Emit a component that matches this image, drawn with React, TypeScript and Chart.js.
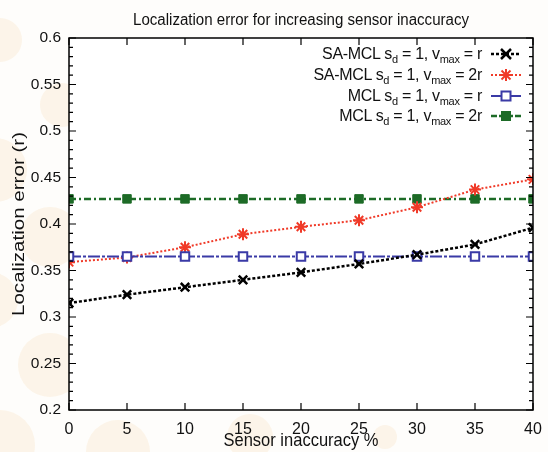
import React, { useEffect, useRef } from "react";
import { Chart, registerables } from "chart.js";
Chart.register(...registerables);

const titleText = "Localization error for increasing sensor inaccuracy";
const xAxisTitle = "Sensor inaccuracy %";
const yAxisTitle = "Localization error (r)";

const xValues = [0, 5, 10, 15, 20, 25, 30, 35, 40];
const saMclVr = [0.315, 0.324, 0.332, 0.340, 0.348, 0.357, 0.367, 0.378, 0.396];
const saMclV2r = [0.359, 0.364, 0.375, 0.389, 0.397, 0.404, 0.418, 0.437, 0.448];
const mclVr = [0.365, 0.365, 0.365, 0.365, 0.365, 0.365, 0.365, 0.365, 0.365];
const mclV2r = [0.427, 0.427, 0.427, 0.427, 0.427, 0.427, 0.427, 0.427, 0.427];

const xTickValues = [0, 5, 10, 15, 20, 25, 30, 35, 40];
const yTickValues = [0.2, 0.25, 0.3, 0.35, 0.4, 0.45, 0.5, 0.55, 0.6];
const yTickLabels = ["0.2", "0.25", "0.3", "0.35", "0.4", "0.45", "0.5", "0.55", "0.6"];

const seriesLabels = [
  { pre: "SA-MCL", v: "r" },
  { pre: "SA-MCL", v: "2r" },
  { pre: "MCL", v: "r" },
  { pre: "MCL", v: "2r" },
];

const FONT = "'Liberation Sans', Arial, sans-serif";
const BLACK = "#000000";
const RED = "#f03a28";
const BLUE = "#3a3aa6";
const GREEN = "#1d6b27";

function Sample({ idx }: { idx: number }) {
  const cx = 16, cy = 7;
  let line: any = null;
  let marker: any = null;
  if (idx === 0) {
    line = <line x1={1} y1={cy} x2={31} y2={cy} stroke={BLACK} strokeWidth={2.5} strokeDasharray="3 2" />;
    marker = (
      <g stroke={BLACK} strokeWidth={2.5}>
        <line x1={cx - 5} y1={cy - 5} x2={cx + 5} y2={cy + 5} />
        <line x1={cx - 5} y1={cy + 5} x2={cx + 5} y2={cy - 5} />
      </g>
    );
  } else if (idx === 1) {
    line = <line x1={1} y1={cy} x2={31} y2={cy} stroke={RED} strokeWidth={2} strokeDasharray="2 2" />;
    marker = (
      <g stroke={RED} strokeWidth={2}>
        <line x1={cx - 4.5} y1={cy - 4.5} x2={cx + 4.5} y2={cy + 4.5} />
        <line x1={cx - 4.5} y1={cy + 4.5} x2={cx + 4.5} y2={cy - 4.5} />
        <line x1={cx - 6} y1={cy} x2={cx + 6} y2={cy} />
        <line x1={cx} y1={cy - 6} x2={cx} y2={cy + 6} />
      </g>
    );
  } else if (idx === 2) {
    line = <line x1={1} y1={cy} x2={31} y2={cy} stroke={BLUE} strokeWidth={2} />;
    marker = <rect x={cx - 4.5} y={cy - 4.5} width={9} height={9} fill="#fff" stroke={BLUE} strokeWidth={2} />;
  } else {
    line = <line x1={1} y1={cy} x2={31} y2={cy} stroke={GREEN} strokeWidth={2.5} strokeDasharray="6 2 2 2" />;
    marker = <rect x={cx - 4.5} y={cy - 4.5} width={9} height={9} fill={GREEN} stroke={GREEN} strokeWidth={1} />;
  }
  return (
    <svg width={32} height={14} style={{ marginLeft: 8, display: "block" }}>
      {line}
      {marker}
    </svg>
  );
}

function Legend() {
  return (
    <div
      style={{
        position: "absolute",
        right: 26,
        top: 44,
        fontFamily: FONT,
        fontSize: 16,
        letterSpacing: -0.3,
        color: "#111",
        textAlign: "right",
      }}
    >
      {seriesLabels.map((s, i) => (
        <div key={i} style={{ display: "flex", alignItems: "center", justifyContent: "flex-end", height: 20.7 }}>
          <span style={{ whiteSpace: "nowrap", lineHeight: "16px" }}>
            {s.pre} s<sub style={{ fontSize: 11, lineHeight: 0 }}>d</sub> = 1, v
            <sub style={{ fontSize: 11, lineHeight: 0 }}>max</sub> = {s.v}
          </span>
          <Sample idx={i} />
        </div>
      ))}
    </div>
  );
}

function fitText(ctx: CanvasRenderingContext2D, text: string, x: number, y: number, size: number, width: number) {
  ctx.save();
  ctx.font = `${size}px ${FONT}`;
  const w = ctx.measureText(text).width;
  ctx.translate(x, y);
  ctx.scale(width / w, 1);
  ctx.textAlign = "center";
  ctx.textBaseline = "middle";
  ctx.fillText(text, 0, 0);
  ctx.restore();
}

export default function App() {
  const ref = useRef<HTMLCanvasElement>(null);
  useEffect(() => {
    document.body.style.margin = "0";
    const canvas = ref.current;
    if (!canvas) return;
    const toPts = (ys: number[]) => xValues.map((x, i) => ({ x, y: ys[i] }));

    const decor = {
      id: "decor",
      beforeDraw(chart: any) {
        const ctx = chart.ctx;
        ctx.save();
        ctx.fillStyle = "#fefdfb";
        ctx.fillRect(0, 0, chart.width, chart.height);
        ctx.fillStyle = "rgba(248, 215, 170, 0.22)";
        const circles = [
          [0, 40, 22], [62, 105, 22], [-5, 170, 32], [50, 237, 30], [-10, 300, 28],
          [50, 365, 32], [0, 445, 35], [118, 452, 32], [250, 437, 23], [385, 437, 12],
        ];
        for (const [x, y, r] of circles) {
          ctx.beginPath();
          ctx.arc(x, y, r, 0, Math.PI * 2);
          ctx.fill();
        }
        const a = chart.chartArea;
        ctx.fillStyle = "#ffffff";
        ctx.fillRect(a.left, a.top, a.right - a.left, a.bottom - a.top);
        ctx.restore();
      },
      afterDraw(chart: any) {
        const ctx = chart.ctx;
        const a = chart.chartArea;
        const xs = chart.scales.x;
        const ys = chart.scales.y;
        ctx.save();
        ctx.strokeStyle = "#000";
        ctx.lineWidth = 1.5;
        ctx.strokeRect(a.left, a.top, a.right - a.left, a.bottom - a.top);
        ctx.lineWidth = 1.2;
        ctx.beginPath();
        for (const v of xTickValues) {
          const px = xs.getPixelForValue(v);
          ctx.moveTo(px, a.bottom);
          ctx.lineTo(px, a.bottom - 7);
          ctx.moveTo(px, a.top);
          ctx.lineTo(px, a.top + 7);
        }
        for (const v of yTickValues) {
          const py = ys.getPixelForValue(v);
          ctx.moveTo(a.left, py);
          ctx.lineTo(a.left + 7, py);
          ctx.moveTo(a.right, py);
          ctx.lineTo(a.right - 7, py);
        }
        for (let k = 0; k < yTickValues.length - 1; k++) {
          const lo = yTickValues[k];
          const step = (yTickValues[k + 1] - lo) / 5;
          for (let m = 1; m < 5; m++) {
            const py = ys.getPixelForValue(lo + step * m);
            ctx.moveTo(a.left, py);
            ctx.lineTo(a.left + 4, py);
            ctx.moveTo(a.right, py);
            ctx.lineTo(a.right - 4, py);
          }
        }
        ctx.stroke();
        ctx.fillStyle = "#111";
        const cx = (a.left + a.right) / 2;
        const cy = (a.top + a.bottom) / 2;
        fitText(ctx, titleText, cx, 21, 16, 336);
        fitText(ctx, xAxisTitle, cx, 441, 18.5, 155);
        ctx.save();
        ctx.font = `20px ${FONT}`;
        const w = ctx.measureText(yAxisTitle).width;
        ctx.translate(19, cy);
        ctx.rotate(-Math.PI / 2);
        ctx.scale(184 / w, 0.82);
        ctx.textAlign = "center";
        ctx.textBaseline = "middle";
        ctx.fillText(yAxisTitle, 0, 0);
        ctx.restore();
        ctx.restore();
      },
    };

    const chart = new Chart(canvas, {
      type: "line",
      data: {
        datasets: [
          {
            label: "SA-MCL vmax=r",
            data: toPts(saMclVr),
            borderColor: BLACK,
            backgroundColor: BLACK,
            borderWidth: 2.5,
            borderDash: [3, 2],
            pointStyle: "crossRot",
            pointRadius: 6,
            pointBorderWidth: 2.5,
            order: 1,
          },
          {
            label: "SA-MCL vmax=2r",
            data: toPts(saMclV2r),
            borderColor: RED,
            backgroundColor: RED,
            borderWidth: 2,
            borderDash: [2, 2],
            pointStyle: "star",
            pointRadius: 6,
            pointBorderWidth: 2,
            order: 3,
          },
          {
            label: "MCL vmax=r",
            data: toPts(mclVr),
            borderColor: BLUE,
            backgroundColor: "#ffffff",
            borderWidth: 2,
            borderDash: [12, 2, 3, 2],
            pointStyle: "rect",
            pointRadius: 6,
            pointBorderWidth: 2,
            order: 2,
          },
          {
            label: "MCL vmax=2r",
            data: toPts(mclV2r),
            borderColor: GREEN,
            backgroundColor: GREEN,
            borderWidth: 2.5,
            borderDash: [7, 3, 2, 3],
            pointStyle: "rect",
            pointRadius: 6,
            pointBorderWidth: 1,
            order: 4,
          },
        ],
      },
      options: {
        responsive: false,
        animation: false,
        devicePixelRatio: 1,
        layout: { padding: { left: 0, right: 15, top: 38, bottom: 0 } },
        plugins: { legend: { display: false }, title: { display: false }, tooltip: { enabled: false } },
        scales: {
          x: {
            type: "linear",
            min: 0,
            max: 40,
            grid: { display: false },
            border: { display: false },
            afterBuildTicks: (s: any) => {
              s.ticks = xTickValues.map((v) => ({ value: v }));
            },
            afterFit: (s: any) => {
              s.height = 42;
            },
            ticks: {
              color: "#111",
              font: { family: FONT, size: 16 },
              padding: 2,
              maxRotation: 0,
              callback: (v: any) => String(v),
            },
          },
          y: {
            type: "linear",
            min: 0.2,
            max: 0.6,
            grid: { display: false },
            border: { display: false },
            afterBuildTicks: (s: any) => {
              s.ticks = yTickValues.map((v) => ({ value: v }));
            },
            afterFit: (s: any) => {
              s.width = 69;
            },
            ticks: {
              color: "#111",
              font: { family: FONT, size: 15.5 },
              padding: 0,
              callback: (_v: any, i: number) => yTickLabels[i],
            },
          },
        },
      },
      plugins: [decor],
    });
    return () => chart.destroy();
  }, []);

  return (
    <div style={{ position: "relative", width: 548, height: 452 }}>
      <canvas ref={ref} width={548} height={452} style={{ display: "block", width: 548, height: 452 }} />
      <Legend />
    </div>
  );
}
